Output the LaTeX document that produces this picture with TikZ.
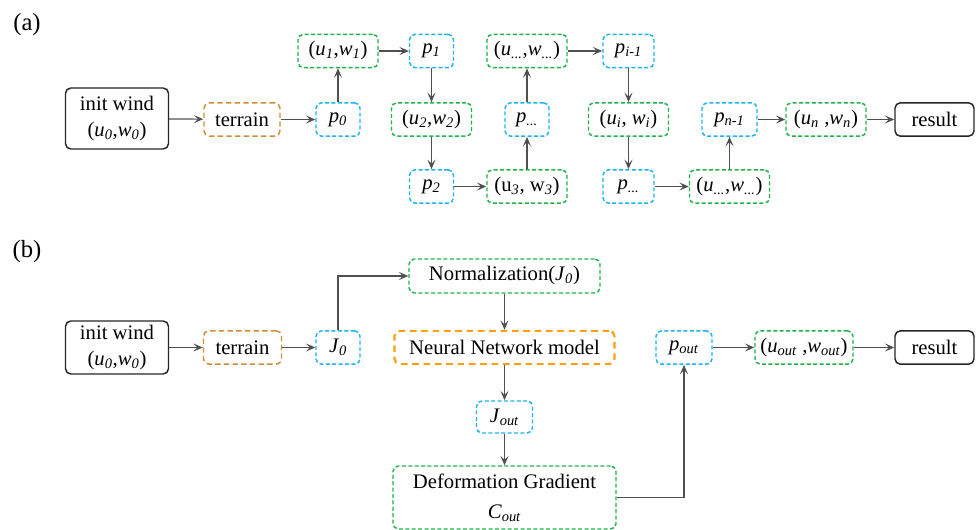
\documentclass[tikz,border=0pt]{standalone}
\usepackage{fontspec}
\setmainfont{Liberation Serif}
\usetikzlibrary{arrows.meta}
\definecolor{cgreen}{RGB}{34,178,76}
\definecolor{cblue}{RGB}{30,180,240}
\definecolor{cbrown}{RGB}{204,142,60}
\definecolor{corange}{RGB}{255,160,20}
\definecolor{cline}{RGB}{80,80,80}
\newcommand{\vv}[2]{\textit{#1}\textsubscript{\textit{#2}}}
\begin{document}
\begin{tikzpicture}[x=0.75pt,y=-0.75pt,
  base/.style={rounded corners=4pt, line width=1.1pt, inner sep=0pt, align=center,
    font=\fontsize{15.5}{20}\selectfont, minimum height=25pt},
  solidbox/.style={base, draw=black!85},
  gbox/.style={base, draw=cgreen, dash pattern=on 3pt off 1.8pt},
  bbox/.style={base, draw=cblue, dash pattern=on 3pt off 1.8pt},
  tbox/.style={base, draw=cbrown, dash pattern=on 4pt off 2.5pt},
  obox/.style={base, draw=corange, line width=1.6pt, dash pattern=on 5pt off 3.5pt},
  arr/.style={draw=cline, line width=0.9pt, -{Stealth[length=7pt,width=6pt,inset=3pt]}},
  lab/.style={font=\fontsize{18.5}{20}\selectfont}
]
\useasboundingbox (0,0) rectangle (976,530);
% ---------------- (a)
\node[lab] (la) at (27,25) {(a)};
\node[solidbox, minimum width=77.25pt, minimum height=45.75pt] (iw) at (117,118.5) {init wind\\(\vv{u}{0},\vv{w}{0})};
\node[tbox, minimum width=57pt] (ter) at (242,119.5) {terrain};
\node[bbox, minimum width=33pt] (p0) at (338,119.5) {\vv{p}{0}};
\node[gbox, minimum width=60pt] (uw1) at (338,51) {(\vv{u}{1},\vv{w}{1})};
\node[bbox, minimum width=33pt] (p1) at (431.5,51) {\vv{p}{1}};
\node[gbox, minimum width=60pt] (uw2) at (431.5,119.5) {(\vv{u}{2},\vv{w}{2})};
\node[bbox, minimum width=33pt] (p2) at (431.5,186.5) {\vv{p}{2}};
\node[gbox, minimum width=60pt] (uw3) at (527,186.5) {(u\textsubscript{\textit{3}}, w\textsubscript{\textit{3}})};
\node[bbox, minimum width=33pt] (pd1) at (527,119.5) {\vv{p}{...}};
\node[gbox, minimum width=60pt] (uwd1) at (527,51) {(\vv{u}{...},\vv{w}{...})};
\node[bbox, minimum width=38.25pt] (pim) at (628.5,51) {\vv{p}{i-1}};
\node[gbox, minimum width=60pt] (uwi) at (628.5,119.5) {(\vv{u}{i}, \vv{w}{i})};
\node[bbox, minimum width=38.25pt] (pd2) at (628.5,186.5) {\vv{p}{...}};
\node[gbox, minimum width=60pt] (uwd2) at (729.5,186.5) {(\vv{u}{...},\vv{w}{...})};
\node[bbox, minimum width=41.25pt] (pn1) at (729.5,119.5) {\vv{p}{n-1}};
\node[gbox, minimum width=60pt] (uwn) at (826,119.5) {(\vv{u}{n} ,\vv{w}{n})};
\node[solidbox, minimum width=59.25pt] (res1) at (934.5,119.5) {result};
\draw[arr] (iw) -- (ter);
\draw[arr] (ter) -- (p0);
\draw[arr] (p0) -- (uw1);
\draw[arr] (uw1) -- (p1);
\draw[arr] (p1) -- (uw2);
\draw[arr] (uw2) -- (p2);
\draw[arr] (p2) -- (uw3);
\draw[arr] (uw3) -- (pd1);
\draw[arr] (pd1) -- (uwd1);
\draw[arr] (uwd1) -- (pim);
\draw[arr] (pim) -- (uwi);
\draw[arr] (uwi) -- (pd2);
\draw[arr] (pd2) -- (uwd2);
\draw[arr] (uwd2) -- (pn1);
\draw[arr] (pn1) -- (uwn);
\draw[arr] (uwn) -- (res1);
% ---------------- (b)
\node[lab] (lb) at (27,252) {(b)};
\node[solidbox, minimum width=77.25pt, minimum height=39.75pt] (iwb) at (117,347.5) {init wind\\(\vv{u}{0},\vv{w}{0})};
\node[tbox, minimum width=58.5pt] (terb) at (242.5,347.5) {terrain};
\node[bbox, minimum width=33pt] (j0) at (338,347.5) {\vv{J}{0}};
\node[gbox, minimum width=143.25pt, minimum height=25.5pt] (norm) at (504.5,276) {Normalization(\vv{J}{0})};
\node[obox, minimum width=165pt] (nn) at (504.5,347.5) {Neural Network model};
\node[bbox, minimum width=42pt, minimum height=24pt] (jout) at (504.5,417) {\vv{J}{out}};
\node[gbox, minimum width=167.25pt, minimum height=47.25pt, font=\fontsize{15.5}{22.5}\selectfont] (dg) at (504.5,497.5) {Deformation Gradient\\\vv{C}{out}};
\node[bbox, minimum width=42pt] (pout) at (684,347.5) {\vv{p}{out}};
\node[gbox, minimum width=73.5pt] (uwout) at (804,347.5) {(\vv{u}{out} ,\vv{w}{out})};
\node[solidbox, minimum width=59.25pt] (res2) at (934.5,347.5) {result};
\draw[arr] (iwb) -- (terb);
\draw[arr] (terb) -- (j0);
\draw[arr] (j0.north) |- (norm.west);
\draw[arr] (norm) -- (nn);
\draw[arr] (nn) -- (jout);
\draw[arr] (jout) -- (dg);
\draw[arr] (dg.east) -| (pout.south);
\draw[arr] (pout) -- (uwout);
\draw[arr] (uwout) -- (res2);
\end{tikzpicture}
\end{document}
